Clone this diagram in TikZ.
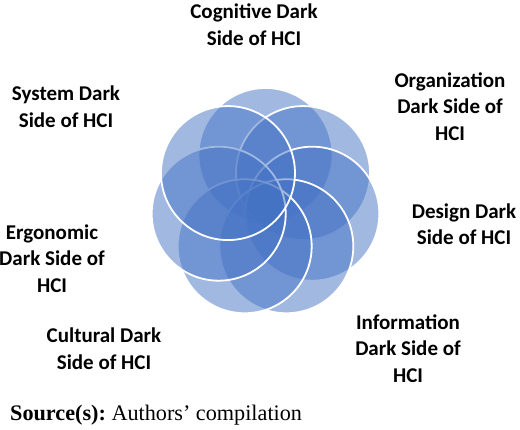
\documentclass[tikz,border=0pt]{standalone}
\usepackage{fontspec}
\usetikzlibrary{calc}
\setmainfont{Carlito}
\newfontfamily\tnr{Liberation Serif}
\definecolor{petalblue}{HTML}{4472C4}
\begin{document}
\frenchspacing
\begin{tikzpicture}[x=1pt,y=1pt,
  petal/.style={circle, minimum size=134pt, inner sep=0pt, outer sep=0pt, fill=petalblue, fill opacity=0.5, draw=white, draw opacity=1, line width=1.8pt},
  lbl/.style={font=\bfseries\fontsize{21}{26.5}\selectfont, align=center, text=black, inner sep=0pt}]
\useasboundingbox (0,0) rectangle (520,-429);
\coordinate (c) at (265.5,-203);
\foreach \a/\n in {90/T,38.57/TR,-12.86/R,-64.29/BR,-115.71/BL,-167.14/L,141.43/TL}{
  \node[petal] (\n) at ($(c)+(\a:48)$) {};
}
\node[lbl] (cog) at (254,-24.5) {Cognitive Dark\\Side of HCI};
\node[lbl] (org) at (450,-106.5) {Organization\\Dark Side of\\HCI};
\node[lbl] (sys) at (66,-106.5) {System Dark\\Side of HCI};
\node[lbl] (des) at (464,-224) {Design Dark\\Side of HCI};
\node[lbl] (erg) at (52,-258.5) {Ergonomic\\Dark Side of\\HCI};
\node[lbl] (cul) at (104,-348.5) {Cultural Dark\\Side of HCI};
\node[lbl] (inf) at (408,-348.5) {Information\\Dark Side of\\HCI};
\node[anchor=base west, font=\tnr\fontsize{22.2}{26}\selectfont, inner sep=0pt] (src) at (10,-420) {\textbf{Source(s):}\ Authors’ compilation};
\end{tikzpicture}
\end{document}
